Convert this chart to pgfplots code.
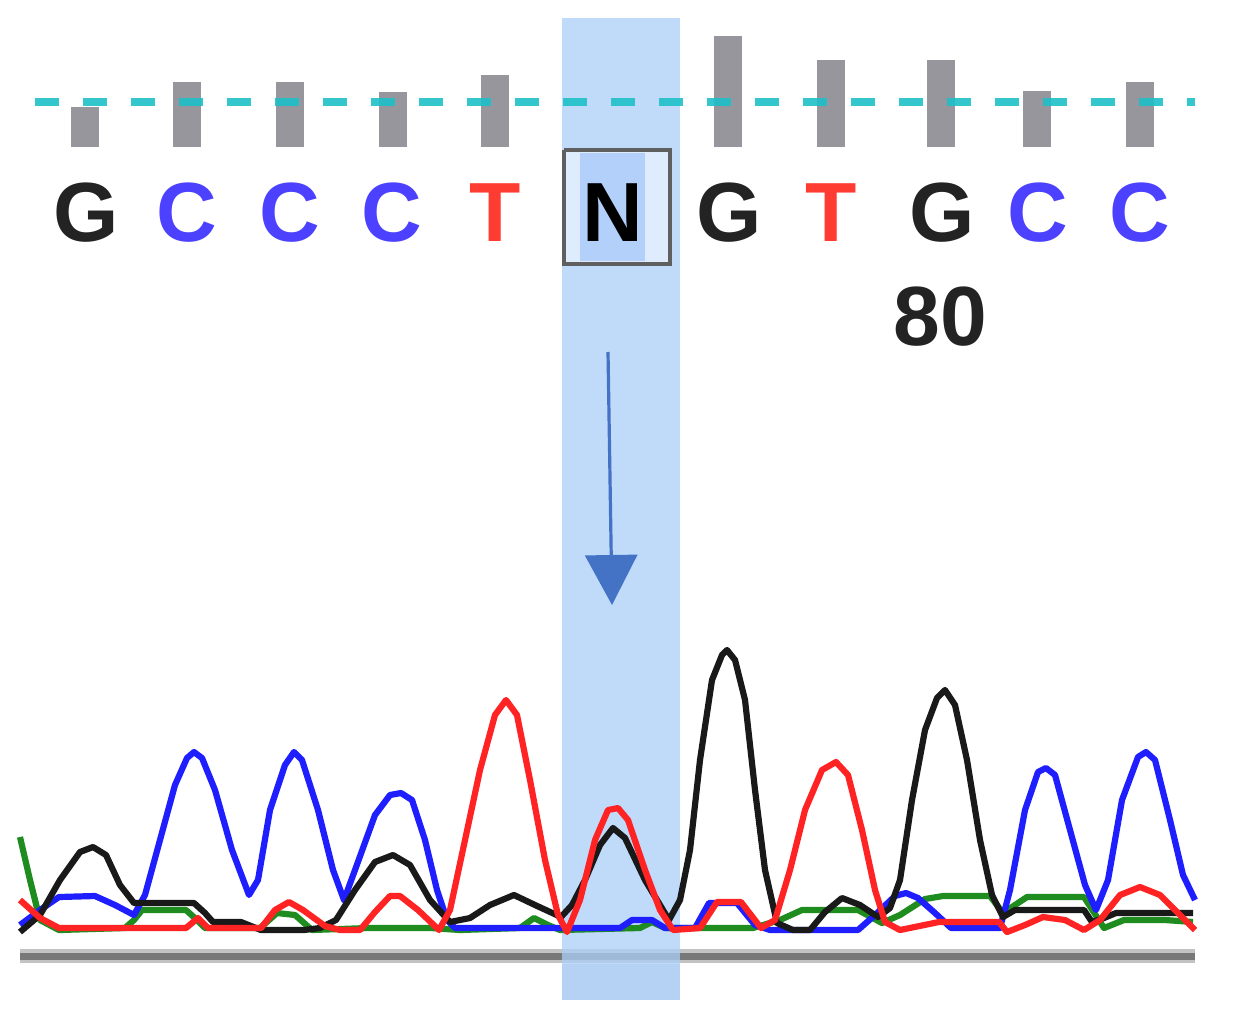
\documentclass[border=0pt]{standalone}
\usepackage{pgfplots}
\pgfplotsset{compat=1.18}
\usetikzlibrary{arrows.meta}
\usepackage{fontspec}
\setmainfont{Liberation Sans}
\definecolor{band}{RGB}{171,206,248}
\definecolor{bandlow}{RGB}{150,185,235}
\definecolor{bargray}{RGB}{150,150,156}
\definecolor{dashcyan}{RGB}{30,192,200}
\definecolor{baseC}{RGB}{75,65,255}
\definecolor{baseT}{RGB}{255,60,50}
\definecolor{baseG}{RGB}{35,35,35}
\definecolor{nfill}{RGB}{222,236,253}
\definecolor{nfillin}{RGB}{178,208,250}
\definecolor{nborder}{RGB}{95,95,95}
\definecolor{arrowblue}{RGB}{68,114,196}
\definecolor{trB}{RGB}{30,30,255}
\definecolor{trR}{RGB}{255,35,35}
\definecolor{trK}{RGB}{25,25,25}
\definecolor{trG}{RGB}{30,140,30}
\definecolor{axgray}{RGB}{120,120,120}
\definecolor{axlight}{RGB}{195,195,195}
\tikzset{baselbl/.style={anchor=base, font=\fontsize{42}{42}\selectfont\bfseries}}
\begin{document}
\begin{tikzpicture}
\begin{axis}[scale only axis, width=616.5pt, height=513pt,
  xmin=0, xmax=1233, ymin=0, ymax=1026, y dir=reverse,
  hide axis, clip=false, unbounded coords=jump]
% frame for bounding box
\addplot[draw=none] coordinates {(0,0) (1233,1026)};
% gray axis line
\addplot[color=axlight, line width=7pt] coordinates {(20,956) (1195,956)};
\addplot[color=axgray, line width=3.5pt] coordinates {(20,956) (1195,956)};
% highlight band
\addplot[fill=band, draw=none, opacity=0.75] coordinates {(562,18) (680,18) (680,1000) (562,1000)};
\addplot[fill=bandlow, draw=none, opacity=0.25] coordinates {(562,964) (680,964) (680,1000) (562,1000)};
% quality bars
\addplot[color=bargray, line width=14pt] coordinates {
(85,147) (85,107) (85,nan)
(187,147) (187,82) (187,nan)
(290,147) (290,82) (290,nan)
(393,147) (393,92) (393,nan)
(495,147) (495,75) (495,nan)
(728,147) (728,36) (728,nan)
(831,147) (831,60) (831,nan)
(941,147) (941,60) (941,nan)
(1037,147) (1037,91) (1037,nan)
(1140,147) (1140,82)};
% dashed cyan line
\addplot[color=dashcyan, line width=4pt, dash pattern=on 12pt off 12pt, opacity=0.9] coordinates {(35,102) (1195,102)};
% N box
\addplot[fill=nfill, draw=nborder, line width=2pt] coordinates {(564,150) (670,150) (670,264) (564,264) (564,150)};
\addplot[fill=nfillin, draw=none] coordinates {(580,153) (645,153) (645,261) (580,261)};
% base letters
\node[baselbl, text=baseG] at (axis cs:86,242) {G};
\node[baselbl, text=baseC] at (axis cs:187,242) {C};
\node[baselbl, text=baseC] at (axis cs:290,242) {C};
\node[baselbl, text=baseC] at (axis cs:392,242) {C};
\node[baselbl, text=baseT] at (axis cs:495,242) {T};
\node[baselbl, text=black] at (axis cs:613,242) {N};
\node[baselbl, text=baseG] at (axis cs:729,242) {G};
\node[baselbl, text=baseT] at (axis cs:831,242) {T};
\node[baselbl, text=baseG] at (axis cs:942,242) {G};
\node[baselbl, text=baseC] at (axis cs:1038,242) {C};
\node[baselbl, text=baseC] at (axis cs:1140,242) {C};
\node[anchor=base, text=baseG, font=\fontsize{42}{42}\selectfont\bfseries] at (axis cs:940,345) {80};
% arrow
\addplot[color=arrowblue, line width=1.6pt, -{Triangle[width=26pt,length=25pt]}] coordinates {(608,352) (612,605)};
% traces: green (A)
\addplot[color=trG, line width=3.1pt, line join=round] coordinates {
(20,837) (30,880) (40,920) (59,930) (125,928) (134,920) (142,910) (186,910) (197,920) (205,928) (260,928) (277,913) (295,915) (312,930) (368,928) (431,928) (460,930) (520,928) (534,918) (548,925) (560,930) (640,928) (652,922) (665,928) (700,928) (753,928) (780,920) (802,910) (858,910) (882,923) (900,915) (925,899) (943,896) (990,896) (1003,913) (1015,905) (1027,897) (1084,897) (1104,928) (1124,920) (1165,920) (1193,922)};
% blue (C)
\addplot[color=trB, line width=3.1pt, line join=round] coordinates {
(20,925) (40,910) (59,897) (95,896) (115,905) (134,915) (145,895) (160,840) (175,785) (187,758) (194,752) (202,758) (215,790) (232,850) (249,895) (258,880) (270,810) (285,765) (294,752) (302,760) (318,810) (333,870) (344,900) (355,870) (375,815) (390,795) (401,793) (412,800) (425,840) (437,890) (447,920) (455,928) (620,928) (632,920) (652,920) (665,928) (695,928) (709,903) (737,903) (755,925) (770,930) (858,930) (875,915) (895,896) (906,893) (918,898) (935,913) (951,928) (1000,928) (1010,890) (1025,810) (1038,772) (1046,768) (1055,775) (1070,830) (1085,885) (1096,910) (1108,880) (1122,800) (1138,757) (1146,752) (1155,760) (1170,820) (1183,875) (1195,900)};
% black (G)
\addplot[color=trK, line width=3.1pt, line join=round] coordinates {
(20,932) (40,915) (60,880) (80,852) (93,847) (106,855) (120,885) (134,903) (194,903) (205,913) (213,922) (241,922) (261,930) (304,930) (320,928) (336,920) (355,890) (375,862) (393,855) (410,865) (430,900) (450,922) (470,918) (490,905) (514,895) (535,905) (561,917) (572,905) (585,880) (600,845) (613,828) (625,838) (645,880) (669,920) (680,900) (690,850) (700,760) (712,680) (722,655) (727,650) (735,660) (745,700) (755,790) (765,870) (777,923) (793,930) (810,930) (825,912) (842,898) (860,905) (878,917) (890,908) (900,880) (912,800) (925,730) (937,698) (945,690) (955,705) (967,760) (980,840) (992,895) (1003,917) (1015,910) (1084,910) (1092,922) (1104,918) (1116,913) (1193,913)};
% red (T)
\addplot[color=trR, line width=3.1pt, line join=round] coordinates {
(20,900) (40,918) (59,928) (186,928) (198,918) (208,928) (261,928) (275,910) (289,902) (303,910) (325,926) (340,930) (360,930) (375,912) (390,896) (400,896) (418,910) (439,930) (450,910) (465,840) (480,770) (495,715) (506,700) (517,715) (530,780) (545,860) (558,915) (567,932) (580,900) (595,840) (608,810) (618,808) (628,820) (645,870) (660,910) (673,930) (700,928) (717,902) (741,902) (761,928) (775,920) (790,870) (805,810) (822,770) (836,762) (848,775) (862,830) (875,890) (885,922) (900,930) (939,922) (999,922) (1007,932) (1025,925) (1043,917) (1065,920) (1084,930) (1100,920) (1120,895) (1140,887) (1160,895) (1180,915) (1195,930)};
\end{axis}
\end{tikzpicture}
\end{document}
